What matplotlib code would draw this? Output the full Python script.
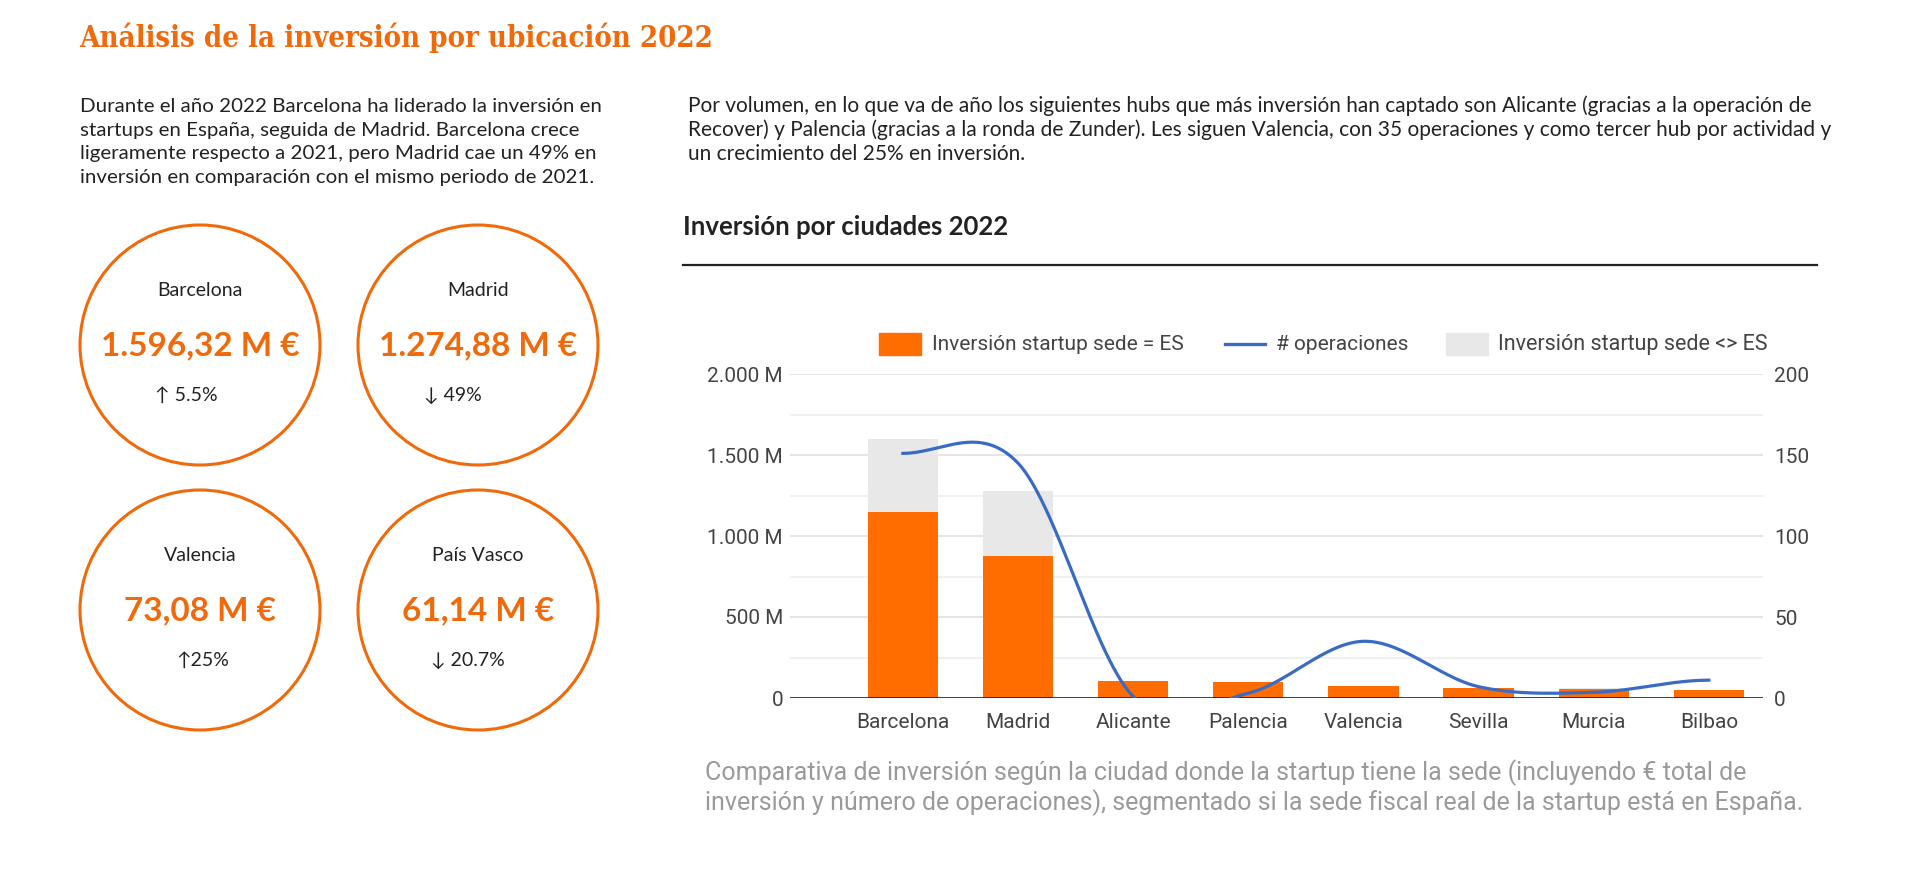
import numpy as np
import matplotlib
matplotlib.use('Agg')
import matplotlib.pyplot as plt
from matplotlib.patches import Circle, Rectangle

# Datos del gráfico (millones de euros y número de operaciones)
ciudades = ['Barcelona', 'Madrid', 'Alicante', 'Palencia', 'Valencia', 'Sevilla', 'Murcia', 'Bilbao']
inversion_es = [1150, 877, 108, 98, 73, 62, 55, 52]
inversion_no_es = [446, 398, 0, 0, 0, 0, 8, 0]
operaciones = [151, 145, 1, 3, 35, 7, 3.5, 11]

ticks_izq = [0, 500, 1000, 1500, 2000]
etiquetas_izq = ['0', '500 M', '1.000 M', '1.500 M', '2.000 M']
ticks_menores = [250, 750, 1250, 1750]
ticks_der = [0, 50, 100, 150, 200]

# Tarjetas (círculos) de la izquierda
kpi_ciudad = ['Barcelona', 'Madrid', 'Valencia', 'País Vasco']
kpi_valor = ['1.596,32 M €', '1.274,88 M €', '73,08 M €', '61,14 M €']
kpi_cambio = ['↑ 5.5%', '↓ 49%', '↑25%', '↓ 20.7%']

texto_izq = [
    'Durante el año 2022 Barcelona ha liderado la inversión en',
    'startups en España, seguida de Madrid. Barcelona crece',
    'ligeramente respecto a 2021, pero Madrid cae un 49% en',
    'inversión en comparación con el mismo periodo de 2021.',
]
texto_der = [
    'Por volumen, en lo que va de año los siguientes hubs que más inversión han captado son Alicante (gracias a la operación de',
    'Recover) y Palencia (gracias a la ronda de Zunder). Les siguen Valencia, con 35 operaciones y como tercer hub por actividad y',
    'un crecimiento del 25% en inversión.',
]
pie = [
    'Comparativa de inversión según la ciudad donde la startup tiene la sede (incluyendo € total de',
    'inversión y número de operaciones), segmentado si la sede fiscal real de la startup está en España.',
]

NARANJA = '#f0690a'
NARANJA_BARRA = '#ff6d00'
GRIS_BARRA = '#e8e8e8'
AZUL = '#3a6bc4'
TEXTO = '#222222'
EJE = '#444444'

plt.rcParams['font.family'] = ['Roboto', 'DejaVu Sans']
W, H = 1920, 888


def curva_suave(y, n=60):
    # curva tipo "function" (spline cúbica que pasa por cada punto)
    y = np.asarray(y, dtype=float)
    m = np.zeros(len(y))
    m[1:-1] = (y[2:] - y[:-2]) / 2
    xs, ys = [], []
    for i in range(len(y) - 1):
        t = np.linspace(0, 1, n)
        h00 = 2 * t**3 - 3 * t**2 + 1
        h10 = t**3 - 2 * t**2 + t
        h01 = -2 * t**3 + 3 * t**2
        h11 = t**3 - t**2
        xs.append(i + t)
        ys.append(h00 * y[i] + h10 * m[i] + h01 * y[i + 1] + h11 * m[i + 1])
    return np.concatenate(xs), np.concatenate(ys)


fig = plt.figure(figsize=(W / 100, H / 100), dpi=100)

# Capa de fondo en píxeles para textos y círculos
bg = fig.add_axes([0, 0, 1, 1])
bg.set_xlim(0, W)
bg.set_ylim(H, 0)
bg.axis('off')

bg.text(79, 38, 'Análisis de la inversión por ubicación 2022', fontsize=21, fontweight='bold',
        family='DejaVu Serif', fontstretch='condensed', color=NARANJA, va='center')

for i, linea in enumerate(texto_izq):
    bg.text(80, 107 + i * 23.5, linea, fontsize=14.75, family=['Lato', 'DejaVu Sans'], color=TEXTO, va='center')
for i, linea in enumerate(texto_der):
    bg.text(688, 106 + i * 24, linea, fontsize=15.0, family=['Lato', 'DejaVu Sans'], color=TEXTO, va='center')

# Círculos
centros = [(200, 345), (478, 345), (200, 610), (478, 610)]
x_cambio = [155, 424, 176, 431]
for (cx, cy), nombre, valor, cambio, xc in zip(centros, kpi_ciudad, kpi_valor, kpi_cambio, x_cambio):
    bg.add_patch(Circle((cx, cy), 120, fill=False, edgecolor=NARANJA, lw=2.2))
    bg.text(cx, cy - 55, nombre, fontsize=14, family=['Lato', 'DejaVu Sans'], color=TEXTO, ha='center', va='center')
    bg.text(cx, cy + 1, valor, fontsize=24, fontweight='bold', family=['Lato', 'DejaVu Sans'],
            color=NARANJA, ha='center', va='center')
    bg.text(xc, cy + 50, cambio, fontsize=14, family=['Lato', 'DejaVu Sans'], color=TEXTO, ha='left', va='center')

# Encabezado del gráfico
bg.text(683, 227, 'Inversión por ciudades 2022', fontsize=18.5, fontweight='bold',
        family=['Lato', 'DejaVu Sans'], color=TEXTO, va='center')
bg.plot([683, 1817], [265, 265], color=TEXTO, lw=1.6)

# Leyenda
bg.add_patch(Rectangle((879, 333), 42, 22, color=NARANJA_BARRA))
bg.text(932, 344, 'Inversión startup sede = ES', fontsize=15, color=EJE, va='center')
bg.plot([1225, 1265], [344, 344], color=AZUL, lw=2.4)
bg.text(1276, 344, '# operaciones', fontsize=15, color=EJE, va='center')
bg.add_patch(Rectangle((1446, 333), 42, 22, color=GRIS_BARRA))
bg.text(1498, 344, 'Inversión startup sede <> ES', fontsize=15.5, color=EJE, va='center')

for i, linea in enumerate(pie):
    bg.text(705, 773 + i * 30, linea, fontsize=18, color='#9a9a9a', va='center')

# Gráfico combinado
ax = fig.add_axes([790 / W, 1 - 698 / H, 973 / W, 324 / H])
ax.patch.set_alpha(0)
x = np.arange(len(ciudades))
ax.bar(x, inversion_es, width=0.61, color=NARANJA_BARRA, zorder=2)
ax.bar(x, inversion_no_es, width=0.61, bottom=inversion_es, color=GRIS_BARRA, zorder=2)
ax.set_xlim(-0.98, 7.47)
ax.set_ylim(0, 2000)
ax.set_yticks(ticks_izq)
ax.set_yticklabels(etiquetas_izq)
ax.set_yticks(ticks_menores, minor=True)
ax.grid(axis='y', which='major', color='#e3e3e3', lw=1.3, zorder=0)
ax.grid(axis='y', which='minor', color='#ececec', lw=1.1, zorder=0)
ax.set_xticks(x)
ax.set_xticklabels(ciudades)
ax.tick_params(axis='both', which='both', length=0, labelsize=15, labelcolor=EJE)
ax.tick_params(axis='x', pad=11)
ax.tick_params(axis='y', pad=5)
ax.axhline(0, color='#111111', lw=1.8, zorder=4)
for s in ax.spines.values():
    s.set_visible(False)

ax2 = ax.twinx()
cx_, cy_ = curva_suave(operaciones)
ax2.plot(cx_, cy_, color=AZUL, lw=2.3, zorder=3)
ax2.set_ylim(0, 200)
ax2.set_yticks(ticks_der)
ax2.tick_params(axis='y', length=0, labelsize=15, labelcolor=EJE, pad=8)
for s in ax2.spines.values():
    s.set_visible(False)

fig.savefig('out.png', dpi=100, facecolor='white')
